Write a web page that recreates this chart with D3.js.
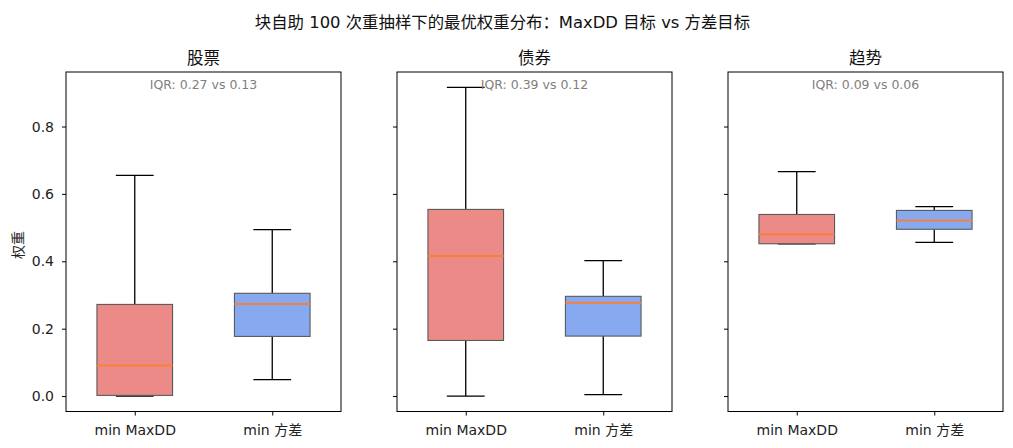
<!DOCTYPE html>
<html><head><meta charset="utf-8">
<script src="https://cdn.jsdelivr.net/npm/d3@7"></script>
<style>
body{margin:0;background:#fff;}
svg, svg text{font-family:"DejaVu Sans","Noto Sans CJK SC",sans-serif;}
</style></head>
<body><svg id="c" width="1013" height="448"></svg>
<script>
const assets = ["股票", "债券", "趋势"];
const methods = ["min MaxDD", "min 方差"];
const yTicks = [0.0, 0.2, 0.4, 0.6, 0.8];
// min MaxDD series: whisker low, Q1, median, Q3, whisker high (per asset)
const maxddLow  = [0.000, 0.000, 0.452];
const maxddQ1   = [0.002, 0.165, 0.452];
const maxddMed  = [0.091, 0.416, 0.480];
const maxddQ3   = [0.272, 0.554, 0.539];
const maxddHigh = [0.655, 0.916, 0.666];
// min 方差 series
const varLow  = [0.049, 0.004, 0.456];
const varQ1   = [0.177, 0.178, 0.495];
const varMed  = [0.273, 0.277, 0.521];
const varQ3   = [0.305, 0.296, 0.551];
const varHigh = [0.494, 0.402, 0.562];

const svg = d3.select("#c");
const W = 1013, H = 448;
const plotTop = 72, plotBottom = 411.5;
const panelX = [66, 397, 728], panelW = 275;
const colors = ["#EB8A87", "#87A9F0"];
const FONT = '"DejaVu Sans","Noto Sans CJK SC",sans-serif';

const allVals = maxddLow.concat(maxddHigh, varLow, varHigh);
const lo = d3.min(allVals), hi = d3.max(allVals), pad = (hi - lo) * 0.05;
const y = d3.scaleLinear().domain([lo - pad, hi + pad]).range([plotBottom, plotTop]);

svg.append("text").attr("x", W / 2 - 4).attr("y", 27.5).attr("text-anchor", "middle")
  .attr("font-size", 16.4).attr("fill", "#111")
  .text("块自助 100 次重抽样下的最优权重分布：MaxDD 目标 vs 方差目标");

assets.forEach((name, i) => {
  const g = svg.append("g").attr("transform", `translate(${panelX[i]},0)`);
  const x = d3.scaleLinear().domain([0.5, 2.5]).range([0, panelW]);
  const unit = x(1) - x(0);
  const bw = 0.55 * unit;
  const series = [
    {lo: maxddLow[i], q1: maxddQ1[i], med: maxddMed[i], q3: maxddQ3[i], hi: maxddHigh[i]},
    {lo: varLow[i], q1: varQ1[i], med: varMed[i], q3: varQ3[i], hi: varHigh[i]}
  ];
  series.forEach((s, j) => {
    const cx = x(j + 1);
    g.append("line").attr("x1", cx).attr("x2", cx).attr("y1", y(s.q3)).attr("y2", y(s.hi))
      .attr("stroke", "#000").attr("stroke-width", 1.3);
    g.append("line").attr("x1", cx).attr("x2", cx).attr("y1", y(s.q1)).attr("y2", y(s.lo))
      .attr("stroke", "#000").attr("stroke-width", 1.3);
    [s.lo, s.hi].forEach(v => {
      g.append("line").attr("x1", cx - bw / 4).attr("x2", cx + bw / 4).attr("y1", y(v)).attr("y2", y(v))
        .attr("stroke", "#000").attr("stroke-width", 1.3);
    });
    g.append("rect").attr("x", cx - bw / 2).attr("width", bw)
      .attr("y", y(s.q3)).attr("height", y(s.q1) - y(s.q3))
      .attr("fill", colors[j]).attr("stroke", "#5a5a5a").attr("stroke-width", 1.1);
    g.append("line").attr("x1", cx - bw / 2).attr("x2", cx + bw / 2).attr("y1", y(s.med)).attr("y2", y(s.med))
      .attr("stroke", "#F5813A").attr("stroke-width", 2);
  });
  g.append("rect").attr("x", 0).attr("y", plotTop).attr("width", panelW).attr("height", plotBottom - plotTop)
    .attr("fill", "none").attr("stroke", "#000").attr("stroke-width", 1);
  const ya = d3.axisLeft(y).tickValues(yTicks).tickSize(4).tickPadding(8)
    .tickFormat(i === 0 ? d3.format(".1f") : () => "");
  const yg = g.append("g").call(ya).attr("font-family", FONT);
  yg.select(".domain").remove();
  yg.selectAll("text").attr("font-size", 14).attr("fill", "#222").attr("font-family", FONT);
  const xa = d3.axisBottom(x).tickValues([1, 2]).tickSize(4).tickPadding(9.5).tickFormat((d) => methods[d - 1]);
  const xg = g.append("g").attr("transform", `translate(0,${plotBottom})`).call(xa).attr("font-family", FONT);
  xg.select(".domain").remove();
  xg.selectAll("text").attr("font-size", 14).attr("fill", "#222").attr("font-family", FONT);
  g.append("text").attr("x", panelW / 2).attr("y", 64).attr("text-anchor", "middle")
    .attr("font-size", 16.5).attr("fill", "#111").text(name);
  const f = d3.format(".2f");
  g.append("text").attr("x", panelW / 2).attr("y", 89).attr("text-anchor", "middle")
    .attr("font-size", 12.5).attr("fill", "#808080")
    .text(`IQR: ${f(maxddQ3[i] - maxddQ1[i])} vs ${f(varQ3[i] - varQ1[i])}`);
});

svg.append("text").attr("transform", `translate(22.5,245) rotate(-90)`)
  .attr("text-anchor", "middle").attr("font-size", 14).attr("fill", "#222").text("权重");
</script></body></html>
